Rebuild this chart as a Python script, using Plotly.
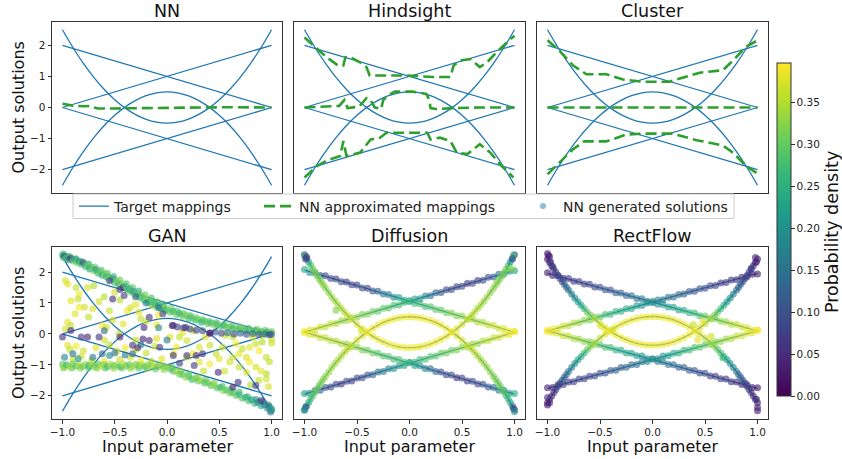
import plotly.graph_objects as go

W, H = 842, 459
FONT = "DejaVu Sans"
BLUE = "#1f77b4"
GREEN = "#2ca02c"

# ---------------- target mappings ----------------
TGT_LINE_X = [-1.0, 1.0]
TGT_LINE1_Y = [2.0, 0.0]
TGT_LINE2_Y = [0.0, 2.0]
TGT_LINE3_Y = [-2.0, 0.0]
TGT_LINE4_Y = [0.0, -2.0]
TGT_PAR_X = [-1.0, -0.9, -0.8, -0.7, -0.6, -0.5, -0.4, -0.3, -0.2, -0.1, 0.0,
             0.1, 0.2, 0.3, 0.4, 0.5, 0.6, 0.7, 0.8, 0.9, 1.0]
TGT_PAR_UP_Y = [2.5, 1.93, 1.42, 0.97, 0.58, 0.25, -0.02, -0.23, -0.38, -0.47, -0.5,
                -0.47, -0.38, -0.23, -0.02, 0.25, 0.58, 0.97, 1.42, 1.93, 2.5]
TGT_PAR_LO_Y = [-2.5, -1.93, -1.42, -0.97, -0.58, -0.25, 0.02, 0.23, 0.38, 0.47, 0.5,
                0.47, 0.38, 0.23, 0.02, -0.25, -0.58, -0.97, -1.42, -1.93, -2.5]

# ---------------- NN approximated mappings ----------------
NN_X = [-1.0, -0.9, -0.8, -0.74, -0.7, -0.66, -0.5, -0.3, -0.1, 0.1, 0.3, 0.6, 1.0]
NN_Y = [0.12, 0.06, 0.04, 0.05, 0.0, -0.03, -0.03, -0.02, -0.01, 0.0, 0.01, 0.01, 0.0]

HS_TOP_X = [-1.0, -0.90, -0.79, -0.68, -0.63, -0.61, -0.55, -0.44, -0.41, -0.38, -0.28, -0.03,
            0.23, 0.39, 0.42, 0.48, 0.58, 0.63, 0.67, 0.74, 0.83, 0.93, 1.0]
HS_TOP_Y = [2.25, 1.94, 1.62, 1.35, 1.35, 1.62, 1.59, 1.40, 1.30, 1.03, 1.03, 1.03,
            0.98, 0.98, 1.35, 1.51, 1.56, 1.40, 1.30, 1.46, 1.78, 2.10, 2.31]
HS_MID_X = [-1.0, -0.67, -0.62, -0.59, -0.48, -0.41, -0.38, -0.33, -0.27, -0.25, -0.20, -0.14,
            0.03, 0.16, 0.19, 0.20, 0.25, 0.41, 0.67, 1.0]
HS_MID_Y = [0.0, 0.05, 0.24, -0.02, 0.03, 0.30, 0.28, 0.0, -0.05, 0.24, 0.40, 0.51,
            0.51, 0.44, 0.24, -0.02, -0.05, -0.02, 0.0, 0.0]
HS_BOT_X = [-1.0, -0.88, -0.79, -0.66, -0.63, -0.60, -0.47, -0.37, -0.28, -0.22, 0.17, 0.20,
            0.29, 0.39, 0.45, 0.55, 0.61, 0.67, 0.77, 0.86, 0.99]
HS_BOT_Y = [-2.25, -1.88, -1.71, -1.56, -1.08, -1.56, -1.45, -1.03, -0.97, -0.81, -0.81, -1.03,
            -0.97, -1.08, -1.45, -1.50, -1.34, -1.18, -1.45, -1.82, -2.25]

CL_TOP_X = [-1.0, -0.89, -0.76, -0.63, -0.44, -0.28, -0.09, 0.16, 0.32, 0.45, 0.67, 0.77, 0.89, 0.99]
CL_TOP_Y = [2.16, 1.84, 1.36, 1.07, 1.07, 0.90, 0.83, 0.83, 0.99, 1.12, 1.20, 1.52, 1.95, 2.14]
CL_MID_X = [-1.0, 1.0]
CL_MID_Y = [0.0, 0.0]
CL_BOT_X = [-1.0, -0.89, -0.76, -0.65, -0.44, -0.25, -0.09, 0.19, 0.42, 0.67, 0.77, 0.89, 0.99]
CL_BOT_Y = [-2.15, -1.78, -1.35, -1.09, -1.09, -0.87, -0.84, -0.84, -1.05, -1.22, -1.46, -1.88, -2.10]

# ---------------- generated solutions (Diffusion / RectFlow) ----------------
LX = [-1.00, -0.95, -0.90, -0.85, -0.80, -0.75, -0.70, -0.65, -0.60, -0.55, -0.50, -0.45, -0.40,
      -0.35, -0.30, -0.25, -0.20, -0.15, -0.10, -0.05, 0.00, 0.05, 0.10, 0.15, 0.20, 0.25, 0.30,
      0.35, 0.40, 0.45, 0.50, 0.55, 0.60, 0.65, 0.70, 0.75, 0.80, 0.85, 0.90, 0.95, 1.00]
L1_Y = [2.02, 1.93, 1.92, 1.83, 1.82, 1.73, 1.72, 1.63, 1.62, 1.53, 1.52, 1.43, 1.42, 1.33, 1.32,
        1.23, 1.22, 1.13, 1.12, 1.03, 1.02, 0.93, 0.92, 0.83, 0.82, 0.73, 0.72, 0.63, 0.62, 0.53,
        0.52, 0.43, 0.42, 0.33, 0.32, 0.23, 0.22, 0.13, 0.12, 0.03, 0.02]
L2_Y = [-0.02, 0.07, 0.08, 0.17, 0.18, 0.27, 0.28, 0.37, 0.38, 0.47, 0.48, 0.57, 0.58, 0.67, 0.68,
        0.77, 0.78, 0.87, 0.88, 0.97, 0.98, 1.07, 1.08, 1.17, 1.18, 1.27, 1.28, 1.37, 1.38, 1.47,
        1.48, 1.57, 1.58, 1.67, 1.68, 1.77, 1.78, 1.87, 1.88, 1.97, 1.98]
L3_Y = [-1.98, -1.97, -1.88, -1.87, -1.78, -1.77, -1.68, -1.67, -1.58, -1.57, -1.48, -1.47, -1.38,
        -1.37, -1.28, -1.27, -1.18, -1.17, -1.08, -1.07, -0.98, -0.97, -0.88, -0.87, -0.78, -0.77,
        -0.68, -0.67, -0.58, -0.57, -0.48, -0.47, -0.38, -0.37, -0.28, -0.27, -0.18, -0.17, -0.08,
        -0.07, 0.02]
L4_Y = [0.02, -0.07, -0.08, -0.17, -0.18, -0.27, -0.28, -0.37, -0.38, -0.47, -0.48, -0.57, -0.58,
        -0.67, -0.68, -0.77, -0.78, -0.87, -0.88, -0.97, -0.98, -1.07, -1.08, -1.17, -1.18, -1.27,
        -1.28, -1.37, -1.38, -1.47, -1.48, -1.57, -1.58, -1.67, -1.68, -1.77, -1.78, -1.87, -1.88,
        -1.97, -1.98]
PX = [-1.00, -0.98, -0.96, -0.94, -0.92, -0.90, -0.88, -0.86, -0.84, -0.82, -0.80, -0.77, -0.74,
      -0.71, -0.68, -0.65, -0.62, -0.59, -0.55, -0.50, -0.45, -0.40, -0.35, -0.30, -0.25, -0.20,
      -0.15, -0.10, -0.05, 0.00, 0.05, 0.10, 0.15, 0.20, 0.25, 0.30, 0.35, 0.40, 0.45, 0.50, 0.55,
      0.59, 0.62, 0.65, 0.68, 0.71, 0.74, 0.77, 0.80, 0.82, 0.84, 0.86, 0.88, 0.90, 0.92, 0.94,
      0.96, 0.98, 1.00]
P5_Y = [2.50, 2.38, 2.27, 2.15, 2.04, 1.93, 1.82, 1.72, 1.62, 1.52, 1.42, 1.28, 1.14, 1.01, 0.89,
        0.77, 0.65, 0.54, 0.41, 0.25, 0.11, -0.02, -0.13, -0.23, -0.31, -0.38, -0.43, -0.47, -0.49,
        -0.50,
        -0.49, -0.47, -0.43, -0.38, -0.31, -0.23, -0.13, -0.02, 0.11, 0.25, 0.41, 0.54, 0.65, 0.77,
        0.89, 1.01, 1.14, 1.28, 1.42, 1.52, 1.62, 1.72, 1.82, 1.93, 2.04, 2.15, 2.27, 2.38, 2.50]
P6_Y = [-2.50, -2.38, -2.27, -2.15, -2.04, -1.93, -1.82, -1.72, -1.62, -1.52, -1.42, -1.28, -1.14,
        -1.01, -0.89, -0.77, -0.65, -0.54, -0.41, -0.25, -0.11, 0.02, 0.13, 0.23, 0.31, 0.38, 0.43,
        0.47, 0.49,
        0.50,
        0.49, 0.47, 0.43, 0.38, 0.31, 0.23, 0.13, 0.02, -0.11, -0.25, -0.41, -0.54, -0.65, -0.77,
        -0.89, -1.01, -1.14, -1.28, -1.42, -1.52, -1.62, -1.72, -1.82, -1.93, -2.04, -2.15, -2.27,
        -2.38, -2.50]

DIFF_D1 = [0.24, 0.20, 0.16, 0.12, 0.09, 0.10, 0.07, 0.09, 0.06, 0.08, 0.07, 0.10, 0.08, 0.11, 0.13,
           0.15, 0.17, 0.19, 0.22, 0.23, 0.25,
           0.27, 0.28, 0.28, 0.29, 0.30, 0.30, 0.31, 0.32, 0.32, 0.33, 0.33, 0.34, 0.35, 0.35, 0.36,
           0.37, 0.37, 0.38, 0.39, 0.39]
DIFF_D2 = [0.39, 0.38, 0.38, 0.37, 0.36, 0.36, 0.35, 0.34, 0.34, 0.33, 0.33, 0.32, 0.32, 0.31, 0.30,
           0.30, 0.29, 0.28, 0.28, 0.27, 0.26,
           0.23, 0.21, 0.18, 0.15, 0.13, 0.11, 0.09, 0.08, 0.07, 0.09, 0.06, 0.08, 0.07, 0.09, 0.10,
           0.12, 0.15, 0.17, 0.20, 0.23]
DIFF_D3 = [0.22, 0.19, 0.15, 0.11, 0.10, 0.08, 0.09, 0.06, 0.08, 0.07, 0.09, 0.08, 0.10, 0.12, 0.14,
           0.16, 0.18, 0.20, 0.21, 0.23, 0.25,
           0.27, 0.27, 0.28, 0.29, 0.29, 0.30, 0.31, 0.31, 0.32, 0.33, 0.33, 0.34, 0.34, 0.35, 0.36,
           0.36, 0.37, 0.38, 0.38, 0.39]
DIFF_D4 = [0.39, 0.38, 0.37, 0.37, 0.36, 0.36, 0.35, 0.35, 0.34, 0.33, 0.33, 0.32, 0.31, 0.31, 0.30,
           0.29, 0.29, 0.28, 0.28, 0.27, 0.25,
           0.22, 0.20, 0.17, 0.14, 0.12, 0.10, 0.08, 0.09, 0.06, 0.08, 0.07, 0.09, 0.08, 0.10, 0.11,
           0.13, 0.16, 0.18, 0.21, 0.24]
DIFF_D5 = [0.07, 0.12, 0.22, 0.28, 0.31, 0.32, 0.31, 0.32, 0.32, 0.33, 0.33, 0.33, 0.34, 0.34, 0.35,
           0.35, 0.36, 0.36, 0.37, 0.38, 0.38, 0.39, 0.39, 0.39, 0.39, 0.39, 0.39, 0.39, 0.39,
           0.39,
           0.39, 0.39, 0.39, 0.39, 0.39, 0.39, 0.39, 0.39, 0.38, 0.38, 0.37, 0.36, 0.36, 0.35, 0.35,
           0.34, 0.34, 0.33, 0.33, 0.33, 0.32, 0.32, 0.31, 0.32, 0.31, 0.28, 0.22, 0.13, 0.08]
DIFF_D6 = [0.18, 0.20, 0.24, 0.27, 0.29, 0.30, 0.31, 0.30, 0.32, 0.32, 0.33, 0.33, 0.34, 0.34, 0.35,
           0.35, 0.36, 0.36, 0.37, 0.38, 0.38, 0.39, 0.39, 0.39, 0.39, 0.39, 0.39, 0.39, 0.39,
           0.39,
           0.39, 0.39, 0.39, 0.39, 0.39, 0.39, 0.39, 0.39, 0.38, 0.38, 0.37, 0.36, 0.36, 0.35, 0.34,
           0.34, 0.33, 0.33, 0.32, 0.32, 0.31, 0.31, 0.30, 0.29, 0.28, 0.26, 0.23, 0.19, 0.15]
DIFF_EX_X = [-0.70, -0.46, -1.00, -0.98, -0.99, 0.99, 0.97, 0.98, -0.99, -1.00, 0.99, 1.00]
DIFF_EX_Y = [0.71, 0.07, 2.48, 2.43, 2.36, 2.48, 2.05, 2.36, -2.42, -2.52, -2.45, -2.56]
DIFF_EX_D = [0.32, 0.38, 0.26, 0.06, 0.08, 0.27, 0.33, 0.12, 0.09, 0.20, 0.07, 0.18]

RF_D1 = [0.03, 0.04, 0.05, 0.05, 0.06, 0.06, 0.07, 0.07, 0.08, 0.08, 0.09, 0.10, 0.10, 0.11, 0.12,
         0.13, 0.14, 0.15, 0.16, 0.17, 0.19, 0.20, 0.21, 0.22, 0.23, 0.24, 0.25, 0.26, 0.27, 0.28,
         0.30, 0.31, 0.32, 0.33, 0.34, 0.35, 0.36, 0.37, 0.38, 0.39, 0.39]
RF_D2 = [0.39, 0.39, 0.38, 0.37, 0.36, 0.35, 0.34, 0.33, 0.32, 0.31, 0.30, 0.28, 0.27, 0.26, 0.25,
         0.24, 0.23, 0.22, 0.21, 0.20, 0.19, 0.17, 0.16, 0.15, 0.14, 0.13, 0.12, 0.11, 0.10, 0.10,
         0.09, 0.08, 0.08, 0.07, 0.07, 0.06, 0.06, 0.05, 0.05, 0.04, 0.03]
RF_D3 = [0.04, 0.04, 0.05, 0.06, 0.06, 0.07, 0.07, 0.08, 0.08, 0.09, 0.10, 0.10, 0.11, 0.12, 0.12,
         0.13, 0.14, 0.15, 0.16, 0.18, 0.19, 0.20, 0.21, 0.22, 0.24, 0.25, 0.26, 0.27, 0.28, 0.29,
         0.30, 0.31, 0.32, 0.33, 0.34, 0.35, 0.36, 0.37, 0.38, 0.38, 0.39]
RF_D4 = [0.39, 0.38, 0.38, 0.37, 0.36, 0.35, 0.34, 0.33, 0.32, 0.30, 0.29, 0.28, 0.27, 0.26, 0.25,
         0.24, 0.23, 0.22, 0.21, 0.20, 0.19, 0.18, 0.16, 0.15, 0.14, 0.13, 0.12, 0.11, 0.10, 0.09,
         0.09, 0.08, 0.07, 0.07, 0.06, 0.06, 0.05, 0.05, 0.04, 0.04, 0.03]
RF_D5 = [0.03, 0.04, 0.05, 0.06, 0.07, 0.08, 0.09, 0.10, 0.12, 0.13, 0.15, 0.17, 0.19, 0.22, 0.24,
         0.27, 0.30, 0.32, 0.35, 0.37, 0.38, 0.39, 0.39, 0.39, 0.39, 0.39, 0.39, 0.39, 0.39,
         0.39,
         0.39, 0.39, 0.39, 0.39, 0.39, 0.39, 0.39, 0.39, 0.38, 0.37, 0.35, 0.32, 0.30, 0.27, 0.24,
         0.22, 0.19, 0.17, 0.15, 0.13, 0.12, 0.10, 0.09, 0.08, 0.07, 0.06, 0.05, 0.04, 0.03]
RF_D6 = [0.04, 0.04, 0.05, 0.06, 0.07, 0.08, 0.09, 0.11, 0.12, 0.14, 0.15, 0.17, 0.20, 0.22, 0.25,
         0.27, 0.30, 0.33, 0.35, 0.37, 0.38, 0.39, 0.39, 0.39, 0.39, 0.39, 0.39, 0.39, 0.39,
         0.39,
         0.39, 0.39, 0.39, 0.39, 0.39, 0.39, 0.39, 0.39, 0.38, 0.37, 0.35, 0.33, 0.30, 0.28, 0.25,
         0.22, 0.20, 0.18, 0.16, 0.14, 0.12, 0.11, 0.09, 0.08, 0.07, 0.06, 0.05, 0.04, 0.03]
RF_EX_X = [-1.00, -0.98, -0.97, -0.95, -0.99, 0.99, 0.98, 0.94, -1.00, -0.98, -1.00, 0.99, 1.00,
           1.00, -0.49, -0.43, -0.38, 0.43, 0.56, 0.39, 0.48, 0.67]
RF_EX_Y = [2.69, 2.58, 2.40, 2.23, 2.62, 2.40, 2.55, 2.17, -2.32, -2.50, -2.58, -2.38, -2.67,
           -2.78, 0.16, -0.02, 0.04, -0.31, -0.19, 0.21, 0.33, -0.94]
RF_EX_D = [0.04, 0.05, 0.06, 0.07, 0.03, 0.05, 0.04, 0.08, 0.06, 0.04, 0.03, 0.07, 0.04, 0.03,
           0.38, 0.39, 0.37, 0.38, 0.37, 0.36, 0.38, 0.27]

# ---------------- GAN generated solutions: (x, y, density) ----------------
GAN_UPPER_BAND = [
    (-1.00, 2.55, 0.27), (-0.99, 2.48, 0.22), (-0.98, 2.52, 0.09), (-0.97, 2.44, 0.30), (-0.95, 2.50, 0.25),
    (-0.94, 2.40, 0.18), (-0.92, 2.45, 0.07), (-0.90, 2.36, 0.29), (-0.88, 2.41, 0.24), (-0.86, 2.30, 0.31),
    (-0.84, 2.35, 0.20), (-0.82, 2.25, 0.28), (-0.80, 2.30, 0.10), (-0.78, 2.18, 0.26), (-0.76, 2.22, 0.30),
    (-0.74, 2.10, 0.23), (-0.72, 2.15, 0.29), (-0.70, 2.04, 0.32), (-0.68, 2.08, 0.21), (-0.66, 1.96, 0.27),
    (-0.64, 2.00, 0.30), (-0.62, 1.90, 0.24), (-0.60, 1.95, 0.31), (-0.58, 1.84, 0.26), (-0.56, 1.86, 0.29),
    (-0.54, 1.74, 0.33), (-0.52, 1.78, 0.20), (-0.50, 1.66, 0.28), (-0.48, 1.70, 0.30), (-0.46, 1.58, 0.25),
    (-0.44, 1.62, 0.31), (-0.42, 1.50, 0.07), (-0.40, 1.54, 0.27), (-0.38, 1.42, 0.30), (-0.36, 1.46, 0.24),
    (-0.34, 1.35, 0.29), (-0.32, 1.38, 0.22), (-0.30, 1.26, 0.31), (-0.28, 1.30, 0.28), (-0.26, 1.18, 0.25),
    (-0.24, 1.22, 0.30), (-0.22, 1.10, 0.27), (-0.20, 1.14, 0.32), (-0.18, 1.02, 0.24), (-0.16, 1.06, 0.29),
    (-0.14, 0.96, 0.31), (-0.12, 0.99, 0.26), (-0.10, 0.88, 0.30), (-0.08, 0.92, 0.23), (-0.06, 0.82, 0.28),
    (-0.04, 0.85, 0.31), (-0.02, 0.76, 0.25), (0.00, 0.79, 0.29), (0.03, 0.70, 0.30), (0.06, 0.73, 0.27),
    (0.09, 0.63, 0.31), (0.12, 0.66, 0.26), (0.15, 0.57, 0.29), (0.18, 0.60, 0.32), (0.21, 0.50, 0.27),
    (0.24, 0.53, 0.30), (0.27, 0.44, 0.28), (0.30, 0.47, 0.31), (0.33, 0.38, 0.25), (0.36, 0.41, 0.29),
    (0.39, 0.33, 0.30), (0.42, 0.36, 0.27), (0.45, 0.29, 0.31), (0.48, 0.31, 0.28), (0.51, 0.24, 0.30),
    (0.54, 0.27, 0.26), (0.57, 0.20, 0.29), (0.60, 0.23, 0.31), (0.63, 0.17, 0.27), (0.66, 0.19, 0.30),
    (0.69, 0.14, 0.28), (0.72, 0.16, 0.31), (0.75, 0.11, 0.26), (0.78, 0.13, 0.29), (0.81, 0.08, 0.30),
    (0.84, 0.11, 0.27), (0.87, 0.06, 0.31), (0.90, 0.09, 0.28), (0.93, 0.04, 0.30), (0.96, 0.06, 0.27),
    (0.99, 0.02, 0.29), (1.00, 0.08, 0.31),
    (0.05, 0.27, 0.06), (0.10, 0.22, 0.08), (0.16, 0.20, 0.05), (0.22, 0.16, 0.09), (0.28, 0.12, 0.07),
    (0.34, 0.10, 0.10), (0.41, 0.03, 0.05), (0.46, 0.06, 0.12), (0.52, 0.02, 0.08), (0.58, 0.04, 0.14),
    (0.64, 0.00, 0.09), (0.70, 0.02, 0.13), (0.76, -0.01, 0.10), (0.82, 0.01, 0.15), (0.88, -0.02, 0.11),
    (0.94, 0.00, 0.14), (0.98, -0.03, 0.09), (1.00, -0.01, 0.12),
    (-0.55, 1.72, 0.08), (-0.45, 1.44, 0.06), (-0.30, 1.20, 0.12), (-0.08, 0.85, 0.15), (-0.20, 1.00, 0.18),
]
GAN_UPPER_EDGE = [
    (-0.99, 2.58, 0.28), (-0.93, 2.50, 0.31), (-0.87, 2.43, 0.27), (-0.81, 2.34, 0.30), (-0.75, 2.26, 0.25),
    (-0.69, 2.16, 0.31), (-0.63, 2.06, 0.28), (-0.57, 1.96, 0.30), (-0.51, 1.86, 0.27), (-0.45, 1.74, 0.31),
    (-0.39, 1.62, 0.29), (-0.33, 1.50, 0.30), (-0.27, 1.39, 0.26), (-0.21, 1.27, 0.31), (-0.15, 1.16, 0.28),
    (-0.09, 1.04, 0.30), (-0.03, 0.94, 0.27), (0.04, 0.82, 0.31), (0.10, 0.73, 0.29), (0.16, 0.66, 0.30),
    (0.22, 0.59, 0.27), (0.28, 0.52, 0.31), (0.34, 0.46, 0.29), (0.40, 0.41, 0.30), (0.47, 0.36, 0.28),
    (0.55, 0.31, 0.31), (0.62, 0.26, 0.29), (0.70, 0.22, 0.30), (0.78, 0.18, 0.28), (0.86, 0.15, 0.31),
    (0.94, 0.12, 0.30),
]
GAN_LOWER_BAND = [
    (-1.00, -0.98, 0.30), (-0.98, -1.06, 0.33), (-0.96, -1.00, 0.27), (-0.93, -1.05, 0.34), (-0.90, -0.97, 0.31),
    (-0.87, -1.04, 0.29), (-0.84, -1.00, 0.35), (-0.81, -1.06, 0.30), (-0.78, -0.98, 0.33), (-0.75, -1.03, 0.26),
    (-0.72, -1.00, 0.34), (-0.69, -1.06, 0.31), (-0.66, -0.97, 0.29), (-0.63, -1.04, 0.35), (-0.60, -1.00, 0.32),
    (-0.57, -1.05, 0.28), (-0.54, -0.98, 0.34), (-0.51, -1.03, 0.30), (-0.48, -1.00, 0.33), (-0.45, -1.06, 0.27),
    (-0.42, -0.97, 0.35), (-0.39, -1.04, 0.31), (-0.36, -1.00, 0.29), (-0.33, -1.05, 0.34), (-0.30, -0.98, 0.32),
    (-0.27, -1.03, 0.30), (-0.24, -1.00, 0.35), (-0.21, -1.06, 0.28), (-0.18, -0.99, 0.33), (-0.15, -1.04, 0.31),
    (-0.12, -1.00, 0.36), (-0.09, -1.06, 0.29), (-0.06, -1.01, 0.34), (-0.03, -1.05, 0.31),
    (0.00, -1.08, 0.33), (0.03, -1.13, 0.30), (0.06, -1.20, 0.28), (0.09, -1.22, 0.34), (0.12, -1.30, 0.31),
    (0.15, -1.31, 0.29), (0.18, -1.40, 0.33), (0.21, -1.38, 0.30), (0.24, -1.47, 0.27), (0.27, -1.44, 0.32),
    (0.30, -1.52, 0.30), (0.33, -1.50, 0.34), (0.36, -1.59, 0.28), (0.39, -1.58, 0.31), (0.42, -1.67, 0.29),
    (0.45, -1.66, 0.33), (0.48, -1.75, 0.30), (0.51, -1.73, 0.27), (0.54, -1.83, 0.32), (0.57, -1.81, 0.29),
    (0.60, -1.91, 0.31), (0.63, -1.89, 0.28), (0.66, -1.99, 0.30), (0.69, -1.97, 0.26), (0.72, -2.08, 0.29),
    (0.75, -2.05, 0.25), (0.78, -2.16, 0.28), (0.81, -2.13, 0.22), (0.84, -2.24, 0.26), (0.87, -2.21, 0.18),
    (0.90, -2.32, 0.24), (0.93, -2.28, 0.16), (0.96, -2.40, 0.21), (0.98, -2.36, 0.14), (1.00, -2.47, 0.19),
    (0.99, -2.52, 0.15), (1.00, -2.42, 0.23),
]
GAN_LOWER_EDGE = [
    (-0.99, -1.10, 0.32), (-0.91, -1.10, 0.30), (-0.83, -1.11, 0.34), (-0.75, -1.10, 0.31), (-0.67, -1.11, 0.33),
    (-0.59, -1.10, 0.29), (-0.51, -1.11, 0.34), (-0.43, -1.10, 0.31), (-0.35, -1.11, 0.33), (-0.27, -1.10, 0.30),
    (-0.19, -1.12, 0.34), (-0.11, -1.13, 0.31), (-0.03, -1.15, 0.33), (0.05, -1.08, 0.30), (0.13, -1.20, 0.32),
    (0.21, -1.30, 0.29), (0.29, -1.40, 0.31), (0.37, -1.50, 0.30), (0.45, -1.58, 0.32), (0.53, -1.70, 0.28),
    (0.61, -1.80, 0.30), (0.69, -1.88, 0.27), (0.77, -2.03, 0.25), (0.85, -2.12, 0.22), (0.92, -2.20, 0.19),
    (0.97, -2.30, 0.17),
]
GAN_YELLOW = [
    (-0.97, 1.72, 0.37), (-0.95, 1.61, 0.38), (-0.87, 1.50, 0.36), (-0.84, 1.29, 0.39), (-0.76, 1.50, 0.37),
    (-0.70, 1.56, 0.35), (-0.92, 1.07, 0.38), (-0.85, 1.13, 0.36), (-0.84, 0.86, 0.39), (-0.79, 0.86, 0.37),
    (-0.71, 0.81, 0.38), (-0.55, 0.75, 0.36), (-0.50, 1.35, 0.37), (-0.60, 1.20, 0.35), (-0.38, 0.75, 0.39),
    (-0.35, 0.85, 0.37), (-0.27, 0.70, 0.38), (-0.25, 0.49, 0.36), (-0.14, 0.92, 0.37), (-0.08, 0.60, 0.39),
    (-0.95, 0.38, 0.38), (-0.92, 0.27, 0.36), (-0.97, 0.16, 0.37), (-0.62, 0.27, 0.39), (-0.58, 0.21, 0.37),
    (-0.42, 0.32, 0.38), (-0.46, 0.00, 0.36), (-0.65, 1.05, 0.37), (-0.45, 1.10, 0.35), (-0.30, 0.95, 0.38),
    (-0.20, 0.40, 0.37), (-0.10, 0.30, 0.39), (-0.75, 0.55, 0.36), (-0.88, 0.65, 0.38), (-0.52, 0.45, 0.37),
    (-0.95, -0.37, 0.38), (-0.93, -0.50, 0.36), (-0.80, -0.54, 0.37), (-0.87, -0.40, 0.39), (-0.68, -0.45, 0.38),
    (-0.55, -0.35, 0.36), (-0.48, -0.55, 0.37), (-0.40, -0.45, 0.39), (-0.30, -0.50, 0.38), (-0.20, -0.62, 0.36),
    (-0.12, -0.40, 0.37), (-0.72, -0.85, 0.35), (-0.60, -0.88, 0.38), (-0.45, -0.82, 0.36), (-0.35, -0.75, 0.37),
    (-0.25, -0.85, 0.39), (-0.15, -0.88, 0.35), (-0.05, -0.80, 0.38), (-0.90, -0.82, 0.36), (-0.82, -0.72, 0.37),
    (-0.10, -0.15, 0.38), (-0.30, -0.20, 0.36), (-0.60, -0.20, 0.37),
    (0.03, -0.10, 0.38), (0.12, -0.10, 0.36), (0.19, -0.21, 0.37), (0.09, -0.43, 0.39), (0.31, -0.43, 0.38),
    (0.41, -0.37, 0.36), (0.53, -0.43, 0.37), (0.66, -0.32, 0.39), (0.79, -0.43, 0.38), (0.85, -0.32, 0.36),
    (0.91, -0.26, 0.35), (1.00, -0.30, 0.37), (1.00, -0.17, 0.36), (0.69, -0.64, 0.38), (0.76, -0.75, 0.37),
    (0.88, -0.54, 0.39), (0.95, -0.75, 0.36), (0.50, -0.80, 0.38), (0.60, -0.91, 0.37), (0.41, -0.97, 0.39),
    (0.69, -1.07, 0.36), (0.76, -1.24, 0.38), (0.85, -1.07, 0.37), (0.95, -1.29, 0.35), (0.95, -1.45, 0.37),
    (0.88, -1.50, 0.36), (0.31, -0.91, 0.38), (0.19, -0.75, 0.37), (0.25, -0.64, 0.39), (0.47, -0.64, 0.36),
    (0.06, -0.64, 0.38), (0.63, -0.75, 0.37), (0.79, -0.91, 0.39), (0.72, -0.48, 0.36), (0.56, -0.05, 0.37),
    (0.37, -0.10, 0.38), (0.63, -0.10, 0.36), (0.82, -0.10, 0.37), (0.91, -0.05, 0.35), (0.15, 0.05, 0.38),
    (0.25, 0.10, 0.37), (0.98, -0.90, 0.36), (0.90, -1.20, 0.38), (0.55, -1.20, 0.37), (0.35, -1.20, 0.36),
    (0.80, -1.65, 0.35), (0.97, -1.70, 0.37),
]
GAN_TEAL = [
    (-0.98, -0.75, 0.18), (-0.90, -0.64, 0.15), (-0.71, -0.75, 0.17), (-0.62, -0.64, 0.14), (-0.55, -0.70, 0.19),
    (-0.40, -0.68, 0.16), (-0.33, -0.64, 0.13), (-0.85, -0.80, 0.20), (-0.50, -0.62, 0.15), (-0.25, -0.35, 0.17),
    (-0.60, 0.10, 0.14), (0.00, -0.20, 0.16), (-0.08, 0.20, 0.18),
]
GAN_PURPLE = [
    (-1.00, -0.10, 0.06), (-0.92, 0.11, 0.05), (-0.82, -0.10, 0.07), (-0.76, -0.10, 0.04), (-0.65, -0.10, 0.06),
    (-0.52, 1.13, 0.05), (-0.41, 1.24, 0.07), (-0.22, 0.21, 0.05), (-0.17, 0.54, 0.06), (-0.04, 0.65, 0.08),
    (-0.23, -0.16, 0.04), (-0.33, -0.37, 0.06), (-0.17, -0.21, 0.05), (-0.07, -0.43, 0.07), (-0.28, -0.45, 0.06),
    (0.06, 0.27, 0.05), (0.18, 0.21, 0.07), (0.41, 0.02, 0.04), (0.34, -0.64, 0.06), (0.28, -0.70, 0.05),
    (0.19, -0.70, 0.07), (0.06, -0.70, 0.06), (0.49, -1.24, 0.05), (0.26, -1.02, 0.07), (0.68, -1.56, 0.06),
    (0.63, -1.72, 0.05), (0.85, -1.67, 0.07), (0.90, -2.15, 0.06), (-0.45, -0.10, 0.05), (0.12, -0.95, 0.08),
]

for a, b in [(LX, L1_Y), (LX, L2_Y), (LX, L3_Y), (LX, L4_Y), (PX, P5_Y), (PX, P6_Y),
             (LX, DIFF_D1), (LX, DIFF_D2), (LX, DIFF_D3), (LX, DIFF_D4), (PX, DIFF_D5), (PX, DIFF_D6),
             (LX, RF_D1), (LX, RF_D2), (LX, RF_D3), (LX, RF_D4), (PX, RF_D5), (PX, RF_D6)]:
    assert len(a) == len(b), (len(a), len(b))

# ---------------- layout geometry (pixels) ----------------
COLS = [(52, 282), (294, 525), (537, 768)]
ROWS = [(22, 193), (247, 419)]
Y_RANGES = [[-2.75, 2.75], [-2.75, 2.75], [-2.75, 2.75], [-2.75, 2.81], [-2.8, 2.75], [-3.07, 2.92]]
TITLES = ["NN", "Hindsight", "Cluster", "GAN", "Diffusion", "RectFlow"]
MARKER_SIZE = 7


def pxx(p):
    return p / W


def pxy(p):
    return 1 - p / H


def axid(i):
    return ("x" if i == 0 else f"x{i+1}"), ("y" if i == 0 else f"y{i+1}")


fig = go.Figure()


def add_scatter(i, xs, ys, ds):
    xa, ya = axid(i)
    fig.add_trace(go.Scatter(
        x=xs, y=ys, mode="markers", xaxis=xa, yaxis=ya, showlegend=False, hoverinfo="skip",
        marker=dict(color=ds, coloraxis="coloraxis", size=MARKER_SIZE, opacity=0.62, line=dict(width=0))))


def add_targets(i, legend=False):
    xa, ya = axid(i)
    curves = [(TGT_LINE_X, TGT_LINE1_Y, "linear"), (TGT_LINE_X, TGT_LINE2_Y, "linear"),
              (TGT_LINE_X, TGT_LINE3_Y, "linear"), (TGT_LINE_X, TGT_LINE4_Y, "linear"),
              (TGT_PAR_X, TGT_PAR_UP_Y, "spline"), (TGT_PAR_X, TGT_PAR_LO_Y, "spline")]
    for k, (cx, cy, shp) in enumerate(curves):
        fig.add_trace(go.Scatter(
            x=cx, y=cy, mode="lines", xaxis=xa, yaxis=ya, hoverinfo="skip",
            line=dict(color=BLUE, width=1.3, shape=shp),
            name="Target mappings", legend="legend",
            showlegend=(legend and k == 0)))


def add_approx(i, cx, cy, legend=False):
    xa, ya = axid(i)
    fig.add_trace(go.Scatter(
        x=cx, y=cy, mode="lines", xaxis=xa, yaxis=ya, hoverinfo="skip",
        line=dict(color=GREEN, width=2.6, dash="11px,5px"),
        name="NN approximated mappings", legend="legend2", showlegend=legend))


# top row
add_targets(0, legend=True)
add_approx(0, NN_X, NN_Y, legend=True)
add_targets(1)
add_approx(1, HS_TOP_X, HS_TOP_Y)
add_approx(1, HS_MID_X, HS_MID_Y)
add_approx(1, HS_BOT_X, HS_BOT_Y)
add_targets(2)
add_approx(2, CL_TOP_X, CL_TOP_Y)
add_approx(2, CL_MID_X, CL_MID_Y)
add_approx(2, CL_BOT_X, CL_BOT_Y)

# bottom row: GAN (targets beneath the semi-transparent points)
add_targets(3)
gan_pts = (GAN_YELLOW + GAN_LOWER_EDGE + GAN_LOWER_BAND + GAN_UPPER_EDGE + GAN_UPPER_BAND
           + GAN_TEAL + GAN_PURPLE)
add_scatter(3, [p[0] for p in gan_pts], [p[1] for p in gan_pts], [p[2] for p in gan_pts])

# Diffusion
add_targets(4)
for ys, ds, xs in [(L1_Y, DIFF_D1, LX), (L2_Y, DIFF_D2, LX), (L3_Y, DIFF_D3, LX), (L4_Y, DIFF_D4, LX),
                   (P5_Y, DIFF_D5, PX), (P6_Y, DIFF_D6, PX)]:
    add_scatter(4, xs, ys, ds)
add_scatter(4, DIFF_EX_X, DIFF_EX_Y, DIFF_EX_D)

# RectFlow
add_targets(5)
for ys, ds, xs in [(L1_Y, RF_D1, LX), (L2_Y, RF_D2, LX), (L3_Y, RF_D3, LX), (L4_Y, RF_D4, LX),
                   (P5_Y, RF_D5, PX), (P6_Y, RF_D6, PX)]:
    add_scatter(5, xs, ys, ds)
add_scatter(5, RF_EX_X, RF_EX_Y, RF_EX_D)

# legend entry for generated solutions
fig.add_trace(go.Scatter(
    x=[9], y=[9], mode="markers", xaxis="x", yaxis="y", hoverinfo="skip",
    marker=dict(color=BLUE, size=6, opacity=0.5),
    name="NN generated solutions", legend="legend3", showlegend=True))

tick_font = dict(family=FONT, size=10.5, color="#222222")
layout = dict(
    width=W, height=H, margin=dict(l=0, r=0, t=0, b=0, autoexpand=False),
    paper_bgcolor="white", plot_bgcolor="white",
    font=dict(family=FONT, color="#222222"),
    showlegend=True,
    coloraxis=dict(
        colorscale="Viridis", cmin=0.0, cmax=0.397,
        colorbar=dict(
            x=pxx(777), xanchor="left", xpad=0, y=pxy(229.5), yanchor="middle", ypad=0,
            len=333, lenmode="pixels", thickness=14, thicknessmode="pixels",
            outlinewidth=1, outlinecolor="#333333",
            ticks="outside", ticklen=3.5, tickwidth=0.8, tickcolor="#333333",
            tickvals=[0.0, 0.05, 0.10, 0.15, 0.20, 0.25, 0.30, 0.35],
            ticktext=["0.00", "0.05", "0.10", "0.15", "0.20", "0.25", "0.30", "0.35"],
            tickfont=tick_font)),
)

for idx, lg_x in [("legend", 74), ("legend2", 259), ("legend3", 523)]:
    layout[idx] = dict(x=pxx(lg_x), y=pxy(206.5), xanchor="left", yanchor="middle",
                       orientation="h", bgcolor="rgba(0,0,0,0)", borderwidth=0,
                       font=dict(family=FONT, size=14, color="#222222"))

annotations = []
for i in range(6):
    r, c = divmod(i, 3)
    x0, x1 = COLS[c]
    y0, y1 = ROWS[r]
    xa, ya = axid(i)
    xkey = "xaxis" if i == 0 else f"xaxis{i+1}"
    ykey = "yaxis" if i == 0 else f"yaxis{i+1}"
    show_x = (r == 1)
    show_y = (c == 0)
    layout[xkey] = dict(
        domain=[pxx(x0), pxx(x1)], anchor=ya, range=[-1.1, 1.1],
        showline=True, mirror=True, linecolor="#333333", linewidth=1,
        showgrid=False, zeroline=False,
        ticks="outside" if show_x else "", ticklen=3.5, tickwidth=0.8, tickcolor="#333333",
        showticklabels=show_x, tickvals=[-1, -0.5, 0, 0.5, 1],
        ticktext=["\u22121.0", "\u22120.5", "0.0", "0.5", "1.0"], tickfont=tick_font)
    layout[ykey] = dict(
        domain=[pxy(y1), pxy(y0)], anchor=xa, range=Y_RANGES[i],
        showline=True, mirror=True, linecolor="#333333", linewidth=1,
        showgrid=False, zeroline=False,
        ticks="outside" if show_y else "", ticklen=3.5, tickwidth=0.8, tickcolor="#333333",
        showticklabels=show_y, tickvals=[-2, -1, 0, 1, 2],
        ticktext=["\u22122", "\u22121", "0", "1", "2"], tickfont=tick_font)
    cx = (x0 + x1) / 2
    annotations.append(dict(text=TITLES[i], x=pxx(cx), y=pxy(y0 - 11), xref="paper", yref="paper",
                            xanchor="center", yanchor="middle", showarrow=False,
                            font=dict(family=FONT, size=17.5, color="#111111")))
    if show_x:
        annotations.append(dict(text="Input parameter", x=pxx(cx), y=pxy(446), xref="paper", yref="paper",
                                xanchor="center", yanchor="middle", showarrow=False,
                                font=dict(family=FONT, size=16, color="#111111")))
    if show_y:
        annotations.append(dict(text="Output solutions", x=pxx(18), y=pxy((y0 + y1) / 2),
                                xref="paper", yref="paper", textangle=-90,
                                xanchor="center", yanchor="middle", showarrow=False,
                                font=dict(family=FONT, size=16, color="#111111")))

annotations.append(dict(text="Probability density", x=pxx(832), y=pxy(232), xref="paper", yref="paper",
                        textangle=-90, xanchor="center", yanchor="middle", showarrow=False,
                        font=dict(family=FONT, size=17.5, color="#111111")))
layout["annotations"] = annotations
layout["shapes"] = [dict(type="rect", xref="paper", yref="paper",
                         x0=pxx(73), x1=pxx(734), y0=pxy(218.5), y1=pxy(194),
                         line=dict(color="#cccccc", width=1), fillcolor="rgba(255,255,255,0.85)",
                         layer="above")]

fig.update_layout(**layout)
fig.write_html("out.html", config={"displayModeBar": False},
               post_script="document.body.style.margin='0px';document.body.style.overflow='hidden';")
